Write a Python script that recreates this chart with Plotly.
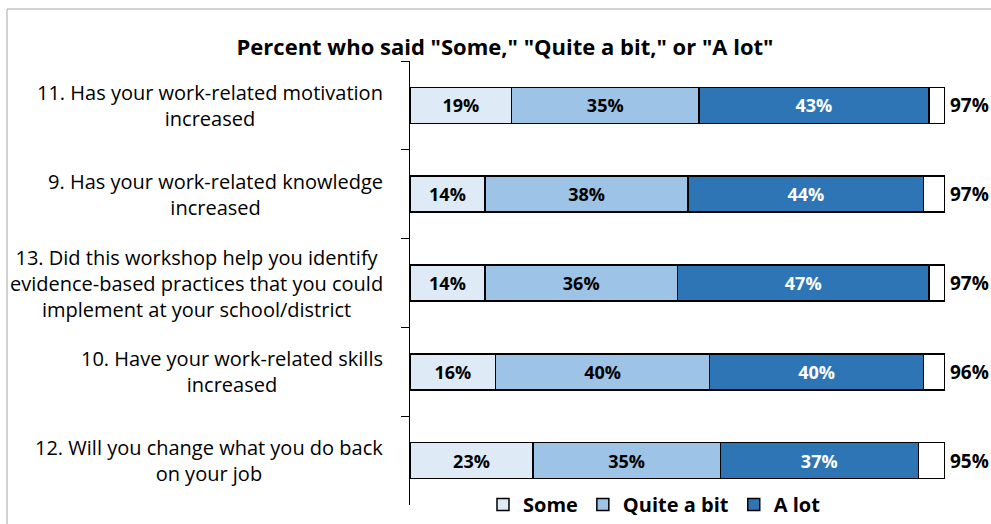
import plotly.graph_objects as go

categories = ["Q11", "Q9", "Q13", "Q10", "Q12"]
labels = [
    "11. Has your work-related motivation<br>increased",
    "9. Has your work-related knowledge<br>increased",
    "13. Did this workshop help you identify<br>evidence-based practices that you could<br>implement at your school/district",
    "10. Have your work-related skills<br>increased",
    "12. Will you change what you do back<br>on your job",
]
some = [19, 14, 14, 16, 23]
quite = [35, 38, 36, 40, 35]
alot = [43, 44, 47, 40, 37]
totals = [97, 97, 97, 96, 95]

FONT = "Open Sans"
W, H = 991, 524
ML, MR, MT, MB = 410, 46, 61, 0
PH = H - MT - MB
AXIS_BOTTOM = 505
DOM0 = (H - MB - AXIS_BOTTOM) / PH

fig = go.Figure()
line = dict(color="black", width=1.5)
fig.add_bar(y=categories, x=some, name="Some", orientation="h",
            marker=dict(color="#DEEBF7", line=line),
            text=[f"{v}%" for v in some], textposition="inside", insidetextanchor="middle",
            textfont=dict(color="black", size=18, family=FONT, weight="bold"))
fig.add_bar(y=categories, x=quite, name="Quite a bit", orientation="h",
            marker=dict(color="#9DC3E6", line=line),
            text=[f"{v}%" for v in quite], textposition="inside", insidetextanchor="middle",
            textfont=dict(color="black", size=18, family=FONT, weight="bold"))
fig.add_bar(y=categories, x=alot, name="A lot", orientation="h",
            marker=dict(color="#2E75B6", line=line),
            text=[f"{v}%" for v in alot], textposition="inside", insidetextanchor="middle",
            textfont=dict(color="white", size=18, family=FONT, weight="bold"))
sums = [a + b + c for a, b, c in zip(some, quite, alot)]
fig.add_bar(y=categories, x=[100 - s for s in sums], base=sums, orientation="h",
            marker=dict(color="white", line=line), showlegend=False, hoverinfo="skip")

for cat, lab, tot in zip(categories, labels, totals):
    fig.add_annotation(x=100, y=cat, xref="x", yref="y", text=f"<b>{tot}%</b>",
                       showarrow=False, xanchor="left", xshift=3,
                       font=dict(size=19, family=FONT, color="black"))
    fig.add_annotation(x=0, y=cat, xref="paper", yref="y", text=lab,
                       showarrow=False, xanchor="right", xshift=-25, align="center",
                       font=dict(size=20, family=FONT, color="black"))

fig.add_shape(type="rect", xref="paper", yref="paper",
              x0=(7 - ML) / (W - ML - MR), x1=1.3,
              y0=-0.3, y1=(H - MB - 9) / PH,
              line=dict(color="#A6A6A6", width=1), fillcolor="rgba(0,0,0,0)")

fig.update_layout(
    width=W, height=H,
    margin=dict(l=ML, r=MR, t=MT, b=MB),
    barmode="stack", bargap=0.594,
    plot_bgcolor="white", paper_bgcolor="white",
    font=dict(family=FONT, size=18, color="black"),
    title=dict(text='<b>Percent who said "Some," "Quite a bit," or "A lot"</b>',
               x=505 / W, xanchor="center", y=1 - 47 / H, yanchor="middle",
               font=dict(size=22, family=FONT, color="black")),
    legend=dict(orientation="h", x=0.457, xanchor="center",
                y=0.0, yanchor="bottom",
                font=dict(size=20, family=FONT, weight="bold"), traceorder="normal",
                itemwidth=30, bgcolor="rgba(0,0,0,0)"),
    uniformtext=dict(minsize=18, mode="show"),
)
fig.update_xaxes(range=[0, 100], visible=False)
fig.update_yaxes(domain=[DOM0, 1], categoryorder="array", categoryarray=categories,
                 autorange="reversed",
                 showline=True, linecolor="black", linewidth=1, ticks="outside",
                 tickson="boundaries", ticklen=8, tickcolor="black",
                 showticklabels=False, showgrid=False, zeroline=False)
fig.write_html("out.html")
